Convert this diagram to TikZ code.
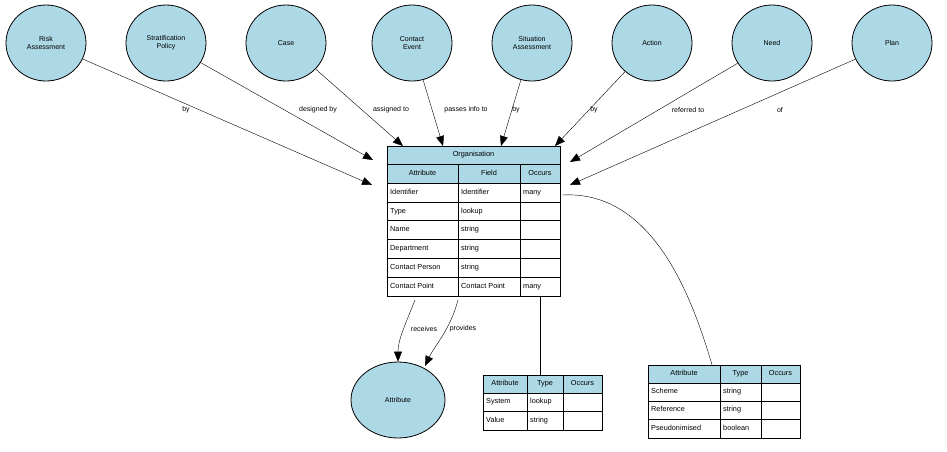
\documentclass[tikz,border=0pt]{standalone}
\usepackage{fontspec}
\setmainfont{Liberation Sans}
\usetikzlibrary{arrows.meta,shapes.geometric}
\definecolor{lb}{HTML}{ADD8E6}
\tikzset{
 ent/.style={ellipse,draw,thick,fill=lb,minimum width=80pt,minimum height=76pt,align=center,font=\fontsize{7}{8}\selectfont,inner sep=0},
 conn/.style={-{Triangle[length=10pt,width=8pt]},black},
 lab/.style={font=\fontsize{7}{8}\selectfont,inner sep=0},
 ctext/.style={font=\fontsize{7.3}{8}\selectfont,inner sep=0,text height=5.3pt,text depth=1.6pt}
}
\newcommand{\hcell}[5]{\draw[fill=lb] (#1,#2) rectangle (#3,#4); \node[ctext] at ({(#1+#3)/2},{(#2+#4)/2}) {#5};}
\newcommand{\dcell}[5]{\draw[fill=white] (#1,#2) rectangle (#3,#4); \node[ctext,anchor=west] at ({#1+3},{(#2+#4)/2}) {#5};}
\begin{document}
\begin{tikzpicture}[x=1pt,y=-1pt]
\useasboundingbox (0,0) rectangle (947,451);
\node[ent] (risk) at (46,43) {Risk\\Assessment};
\node[ent] (strat) at (166,43) {Stratification\\Policy};
\node[ent] (case) at (286,43) {Case};
\node[ent] (contact) at (412,43) {Contact\\Event};
\node[ent] (sit) at (532,43) {Situation\\Assessment};
\node[ent] (action) at (652,43) {Action};
\node[ent] (need) at (772,43) {Need};
\node[ent] (plan) at (892,43) {Plan};
\node[ent,minimum width=94pt] (attr) at (398,400) {Attribute};
% Organisation table
\hcell{387}{146}{560}{164}{Organisation}
\hcell{387}{164}{458}{183}{Attribute}
\hcell{458}{164}{520}{183}{Field}
\hcell{520}{164}{560}{183}{Occurs}
\foreach \a/\b/\c [count=\i from 0] in {Identifier/Identifier/many,Type/lookup/,Name/string/,Department/string/,Contact Person/string/,Contact Point/Contact Point/many}{
 \pgfmathsetmacro\ya{183+\i*18.8}\pgfmathsetmacro\yb{\ya+18.8}
 \dcell{387}{\ya}{458}{\yb}{\a}
 \dcell{458}{\ya}{520}{\yb}{\b}
 \dcell{520}{\ya}{560}{\yb}{\c}
}
\draw[thick] (387,146) rectangle (560,296);
\node[inner sep=0,minimum width=173pt,minimum height=150pt] (org) at (473.5,221) {};
% small table
\hcell{483}{375}{527}{393}{Attribute}
\hcell{527}{375}{563}{393}{Type}
\hcell{563}{375}{602}{393}{Occurs}
\dcell{483}{393}{527}{411}{System}\dcell{527}{393}{563}{411}{lookup}\dcell{563}{393}{602}{411}{}
\dcell{483}{411}{527}{430}{Value}\dcell{527}{411}{563}{430}{string}\dcell{563}{411}{602}{430}{}
\draw[thick] (483,375) rectangle (602,430);
\node[inner sep=0,minimum width=119pt,minimum height=55pt] (ident) at (542.5,402.5) {};
% right table
\hcell{648}{365}{720}{383}{Attribute}
\hcell{720}{365}{761}{383}{Type}
\hcell{761}{365}{800}{383}{Occurs}
\dcell{648}{383}{720}{401}{Scheme}\dcell{720}{383}{761}{401}{string}\dcell{761}{383}{800}{401}{}
\dcell{648}{401}{720}{419}{Reference}\dcell{720}{401}{761}{419}{string}\dcell{761}{401}{800}{419}{}
\dcell{648}{419}{720}{438}{Pseudonimised}\dcell{720}{419}{761}{438}{boolean}\dcell{761}{419}{800}{438}{}
\draw[thick] (648,365) rectangle (800,438);
\node[inner sep=0,minimum width=152pt,minimum height=73pt] (ext) at (724,401.5) {};
% connectors
\draw[conn] (risk) -- (372,185);
\node[lab] at (186,110) {by};
\draw[conn] (strat) -- (373,160);
\node[lab] at (318,110) {designed by};
\draw[conn] (case) -- (403,146);
\node[lab] at (391,110) {assigned to};
\draw[conn] (contact) -- (443,146);
\node[lab] at (466,110) {passes info to};
\draw[conn] (sit) -- (501,146);
\node[lab] at (516,110) {by};
\draw[conn] (action) -- (555,146);
\node[lab] at (594,110) {by};
\draw[conn] (need) -- (570,162);
\node[lab] at (688,110) {referred to};
\draw[conn] (plan) -- (570,185);
\node[lab] at (780,110) {of};
\draw[conn] (415,300) .. controls (405,325) and (398,340) .. (attr.north);
\node[lab] at (424,329) {receives};
\draw[conn] (458,300) .. controls (450,330) and (435,345) .. (425,366);
\node[lab] at (463,329) {provides};
\draw (540,296) -- (ident.north -| 540,0);
\draw (562,195) .. controls (650,190) and (690,290) .. (ext.north -| 712,0);
\end{tikzpicture}
\end{document}
